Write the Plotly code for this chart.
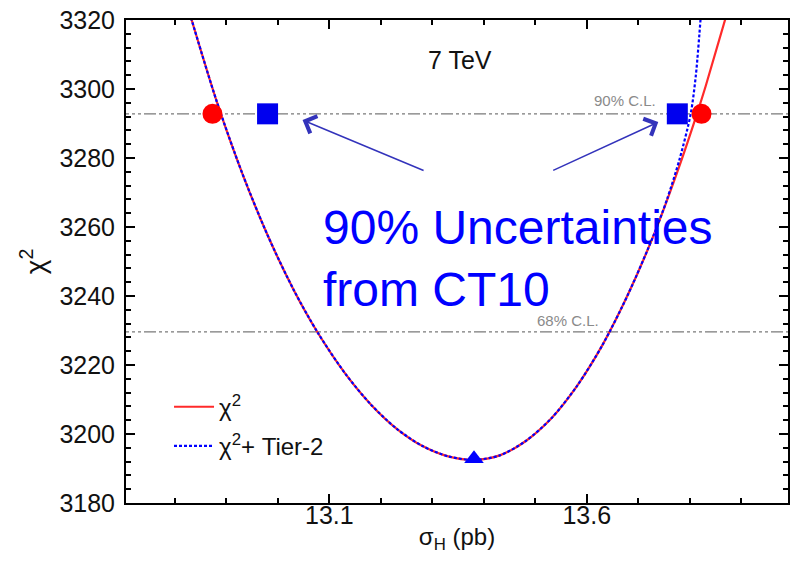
import plotly.graph_objects as go

# ---- data ----
sigma_red = [12.815, 12.833, 12.881, 12.931, 12.981, 13.031, 13.077, 13.131, 13.181, 13.231,
             13.281, 13.331, 13.381, 13.431, 13.481, 13.531, 13.581, 13.631, 13.681, 13.731,
             13.781, 13.813, 13.831, 13.881]
chi2_red = [3329.0, 3319.8, 3296.5, 3275.5, 3257.3, 3241.7, 3229.5, 3217.5, 3208.5, 3201.5,
            3196.5, 3193.5, 3192.5, 3193.8, 3197.9, 3204.5, 3213.9, 3225.9, 3240.7, 3258.0,
            3278.1, 3292.3, 3300.8, 3326.3]

sigma_blue = [12.815, 12.833, 12.881, 12.931, 12.981, 13.031, 13.077, 13.131, 13.181, 13.231,
              13.281, 13.331, 13.381, 13.431, 13.481, 13.531, 13.581, 13.631, 13.681, 13.731,
              13.756, 13.781, 13.802, 13.812, 13.821, 13.826]
chi2_blue = [3329.0, 3319.8, 3296.5, 3275.5, 3257.3, 3241.7, 3229.5, 3217.5, 3208.5, 3201.5,
             3196.5, 3193.5, 3192.5, 3193.8, 3197.9, 3204.5, 3213.9, 3225.9, 3240.7, 3258.0,
             3268.0, 3280.0, 3292.8, 3304.0, 3320.0, 3330.0]

cl90 = 3292.8
cl68 = 3229.6
red_pts_x = [12.873, 13.823]
blue_pts_x = [12.980, 13.776]
min_x = [13.381]
min_y = [3192.8]

x_range = [12.705, 13.991]
y_range = [3180, 3320]

FONT = "Liberation Sans, Arial, sans-serif"

fig = go.Figure()

fig.add_trace(go.Scatter(x=sigma_red, y=chi2_red, mode="lines", name="χ<sup>2</sup>",
                         legendgroup="a",
                         line=dict(color="#ff2a2a", width=2.2, shape="spline", smoothing=0.8)))
fig.add_trace(go.Scatter(x=sigma_blue, y=chi2_blue, mode="lines", name="χ<sup>2</sup>+ Tier-2",
                         legendgroup="b",
                         line=dict(color="#0000ff", width=2.2, dash="3px,2px", shape="spline",
                                   smoothing=0.8)))

fig.add_trace(go.Scatter(x=red_pts_x, y=[cl90] * len(red_pts_x), mode="markers", showlegend=False,
                         marker=dict(symbol="circle", size=20, color="#ff0000")))
fig.add_trace(go.Scatter(x=blue_pts_x, y=[cl90] * len(blue_pts_x), mode="markers", showlegend=False,
                         marker=dict(symbol="square", size=21, color="#0000ee")))
fig.add_trace(go.Scatter(x=min_x, y=min_y, mode="markers", showlegend=False,
                         marker=dict(symbol="triangle-up", size=17, color="#0000ff")))

dash_ref = "3px,3px,3px,3px,3px,3px,12px,3px"
for yv in (cl90, cl68):
    fig.add_shape(type="line", xref="paper", x0=0, x1=1, yref="y", y0=yv, y1=yv,
                  line=dict(color="#7a7a7a", width=1.2, dash=dash_ref), layer="below")

fig.add_annotation(x=13.674, y=3296.6, text="90% C.L.", showarrow=False,
                   font=dict(family=FONT, size=15, color="#8a8a8a"))
fig.add_annotation(x=13.563, y=3233.0, text="68% C.L.", showarrow=False,
                   font=dict(family=FONT, size=15, color="#8a8a8a"))
fig.add_annotation(x=13.353, y=3308.4, text="7 TeV", showarrow=False,
                   font=dict(family=FONT, size=25, color="#111111"))

fig.add_annotation(x=13.083, y=3251.0, xanchor="left", yanchor="middle", align="left",
                   text="90% Uncertainties<br>from CT10", showarrow=False,
                   font=dict(family=FONT, size=48, color="#0000ff"))

# arrows
arrow_col = "#3333bb"
fig.add_annotation(x=13.048, y=3291.0, ax=13.286, ay=3276.2, axref="x", ayref="y",
                   xref="x", yref="y", text="", showarrow=True, arrowhead=4, arrowsize=2.4,
                   arrowwidth=1.5, arrowcolor=arrow_col)
fig.add_annotation(x=13.739, y=3290.4, ax=13.532, ay=3276.2, axref="x", ayref="y",
                   xref="x", yref="y", text="", showarrow=True, arrowhead=4, arrowsize=2.4,
                   arrowwidth=1.5, arrowcolor=arrow_col)

fig.update_layout(
    width=790, height=561,
    margin=dict(l=126, r=0, t=20, b=58),
    paper_bgcolor="white", plot_bgcolor="white",
    font=dict(family=FONT, color="#111111"),
    legend=dict(x=0.065, y=0.245, xanchor="left", yanchor="top", bgcolor="rgba(0,0,0,0)",
                font=dict(family=FONT, size=24, color="#111111"), itemwidth=40, tracegroupgap=5),
)

fig.update_xaxes(range=x_range, tick0=13.1, dtick=0.5, ticks="inside", ticklen=9, tickwidth=1.5,
                 tickcolor="black", showline=True, linecolor="black", linewidth=2, mirror="ticks",
                 showgrid=False, zeroline=False, tickfont=dict(size=25, family=FONT, color="#111111"),
                 ticklabelstandoff=-11,
                 minor=dict(dtick=0.1, tick0=13.1, ticks="inside", ticklen=5, tickwidth=1.5,
                            tickcolor="black", showgrid=False),
                 title=dict(text="σ<sub>H</sub> (pb)", font=dict(size=24, family=FONT, color="#111111"),
                            standoff=0))
fig.update_yaxes(range=y_range, dtick=20, ticks="inside", ticklen=9, tickwidth=1.5,
                 tickcolor="black", showline=True, linecolor="black", linewidth=2, mirror="ticks",
                 showgrid=False, zeroline=False, tickfont=dict(size=25, family=FONT, color="#111111"),
                 ticklabelstandoff=4,
                 minor=dict(dtick=4, ticks="inside", ticklen=5, tickwidth=1.5, tickcolor="black",
                            showgrid=False),
                 title=dict(text="χ<sup>2</sup>", font=dict(size=28, family=FONT, color="#111111"),
                            standoff=6))

fig.write_html("out.html")
